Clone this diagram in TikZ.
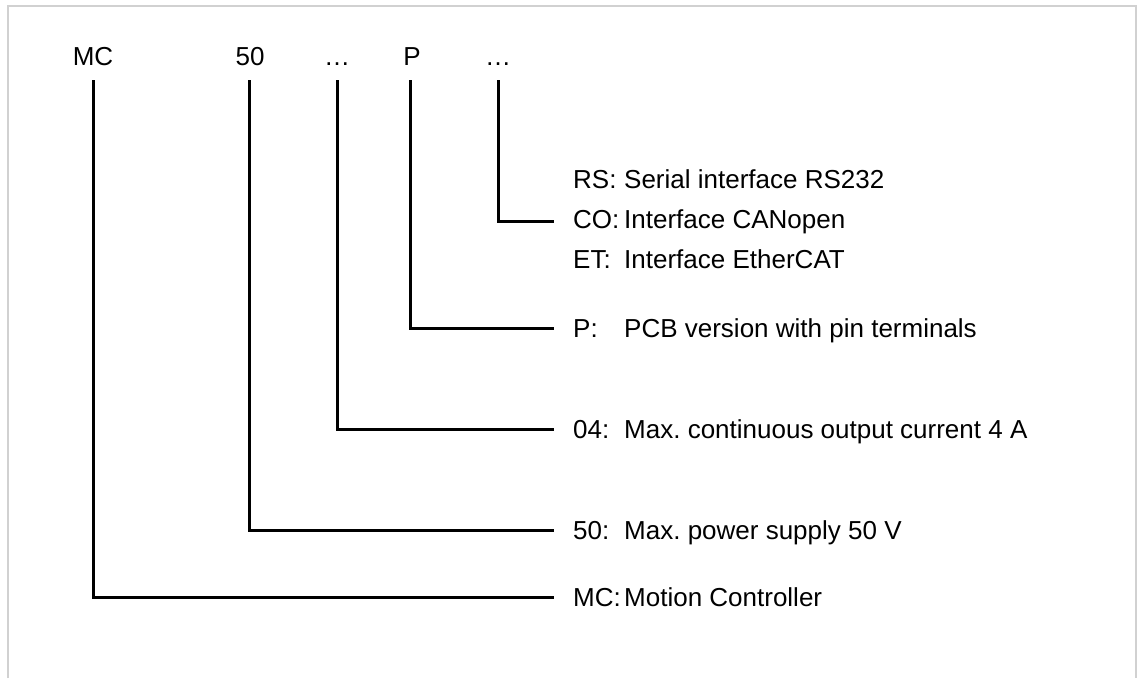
\documentclass[tikz,border=0pt]{standalone}
\usepackage{fontspec}
\setmainfont{Liberation Sans}
\frenchspacing
\begin{document}
\begin{tikzpicture}[x=1pt,y=-1pt,
  lbl/.style={inner sep=0pt, font=\fontsize{26}{31}\selectfont},
  toplbl/.style={lbl, anchor=base},
  rowlbl/.style={lbl, anchor=base west},
  conn/.style={line width=3pt, line join=miter, line cap=butt},
  frameline/.style={draw=black!18, line width=1.5pt}]
\useasboundingbox (0,0) rectangle (1139,678);
\draw[frameline] (8,678) -- (8,6) -- (1136,6) -- (1136,678);
% top code letters
\node[toplbl] (tmc) at (93,65.5) {MC};
\node[toplbl] (t50) at (250,65.5) {50};
\node[toplbl] (tcur) at (337,65.5) {…};
\node[toplbl] (tp) at (412,65.5) {P};
\node[toplbl] (tif) at (498,65.5) {…};
% line starts
\coordinate (smc) at (93,80);
\coordinate (s50) at (249,80);
\coordinate (scur) at (337,80);
\coordinate (sp) at (410,80);
\coordinate (sif) at (498,80);
% line ends
\coordinate (emc) at (554,597);
\coordinate (e50) at (554,530);
\coordinate (ecur) at (554,429);
\coordinate (ep) at (554,328);
\coordinate (eif) at (554,221);
% rows
\node[rowlbl] (rrs) at (573,188.5) {\makebox[51pt][l]{RS:}Serial interface RS232};
\node[rowlbl] (rco) at (573,228.5) {\makebox[51pt][l]{CO:}Interface CANopen};
\node[rowlbl] (ret) at (573,268) {\makebox[51pt][l]{ET:}Interface EtherCAT};
\node[rowlbl] (rp) at (573,337.3) {\makebox[51pt][l]{P:}PCB version with pin terminals};
\node[rowlbl] (r04) at (573,438.3) {\makebox[51pt][l]{04:}Max. continuous output current 4 A};
\node[rowlbl] (r50) at (573,539.3) {\makebox[51pt][l]{50:}Max. power supply 50 V};
\node[rowlbl] (rmc) at (573,606.3) {\makebox[51pt][l]{MC:}Motion Controller};
% connectors
\draw[conn] (smc) |- (emc);
\draw[conn] (s50) |- (e50);
\draw[conn] (scur) |- (ecur);
\draw[conn] (sp) |- (ep);
\draw[conn] (sif) |- (eif);
\end{tikzpicture}
\end{document}
